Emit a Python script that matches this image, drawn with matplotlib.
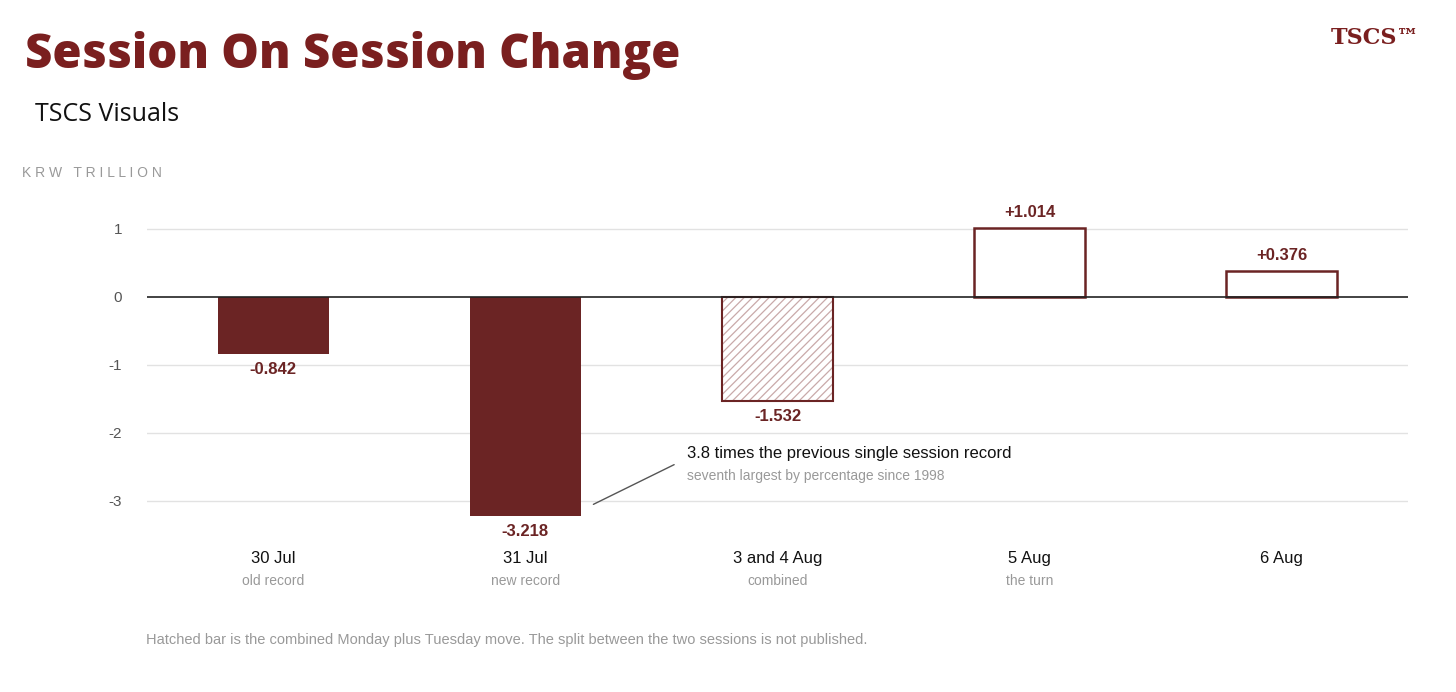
import matplotlib
matplotlib.use("Agg")
import matplotlib.pyplot as plt

dates = ["30 Jul", "31 Jul", "3 and 4 Aug", "5 Aug", "6 Aug"]
notes = ["old record", "new record", "combined", "the turn", ""]
values = [-0.842, -3.218, -1.532, 1.014, 0.376]
labels = ["-0.842", "-3.218", "-1.532", "+1.014", "+0.376"]

RED = "#6B2424"
TITLE = "#7A1F1F"

plt.rcParams["font.family"] = ["Liberation Sans", "DejaVu Sans"]
plt.rcParams["hatch.color"] = "#C9A9A9"
plt.rcParams["hatch.linewidth"] = 0.9

fig = plt.figure(figsize=(14.56, 6.92), dpi=100)
ax = fig.add_axes([0.101, 0.2173, 0.866, 0.511])
ax.set_xlim(-0.5, 4.5)
ax.set_ylim(-3.6, 1.6)

for i, v in enumerate(values):
    if i < 2:
        ax.bar(i, v, width=0.44, color=RED, zorder=3)
    elif i == 2:
        ax.bar(i, v, width=0.44, facecolor="white", edgecolor="#C9A9A9", hatch="////",
               linewidth=0, zorder=3)
        ax.bar(i, v, width=0.44, facecolor="none", edgecolor=RED, linewidth=1.5, zorder=3)
    else:
        ax.bar(i, v, width=0.44, facecolor="white", edgecolor=RED, linewidth=1.8, zorder=3)
    off = 0.12 if v > 0 else -0.12
    ax.text(i, v + off, labels[i], ha="center", va="bottom" if v > 0 else "top",
            fontsize=12, fontweight="bold", color=RED)
    ax.text(i, -3.85, dates[i], ha="center", va="center", fontsize=12, color="#111111",
            clip_on=False)
    ax.text(i, -4.18, notes[i], ha="center", va="center", fontsize=10, color="#999999",
            clip_on=False)

for yv in [1, -1, -2, -3]:
    ax.axhline(yv, color="#E2E2E2", linewidth=1, zorder=1)
ax.axhline(0, color="#222222", linewidth=1.2, zorder=4)

ax.set_yticks([1, 0, -1, -2, -3])
ax.set_yticklabels(["1", "0", "-1", "-2", "-3"], fontsize=11, color="#555555")
ax.tick_params(axis="y", length=0, pad=18)
ax.set_xticks([])
for s in ax.spines.values():
    s.set_visible(False)

ax.annotate("", xy=(1.26, -3.07), xytext=(1.6, -2.45),
            arrowprops=dict(arrowstyle="-", color="#555555", lw=1))
ax.text(1.64, -2.3, "3.8 times the previous single session record", fontsize=12,
        color="#111111", va="center")
ax.text(1.64, -2.63, "seventh largest by percentage since 1998", fontsize=10,
        color="#999999", va="center")

fig.text(0.017, 0.92, "Session On Session Change", fontsize=34, fontweight="heavy",
         family="Open Sans", color=TITLE, va="center")
fig.text(0.024, 0.834, "TSCS Visuals", fontsize=18, family="Open Sans", color="#111111",
         va="center")
fig.text(0.015, 0.75, "K R W   T R I L L I O N", fontsize=10, color="#999999", va="center")
fig.text(0.975, 0.945, "TSCS\u2122", fontsize=16, fontweight="bold", family="serif",
         color=TITLE, ha="right", va="center")
fig.text(0.1, 0.075, "Hatched bar is the combined Monday plus Tuesday move. The split between the two sessions is not published.",
         fontsize=10.5, color="#999999", va="center")

fig.savefig("out.png", dpi=100, facecolor="white")
